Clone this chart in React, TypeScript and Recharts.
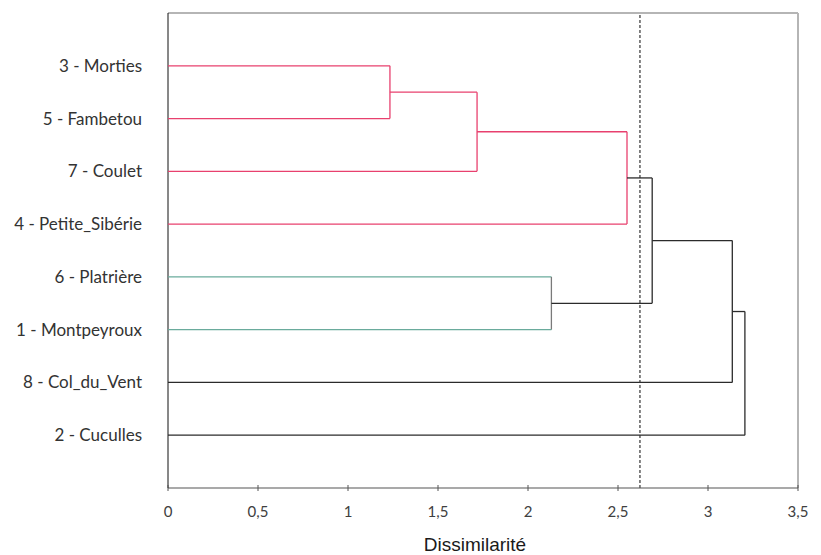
import React from 'react';
import {
    ScatterChart,
    Scatter,
    XAxis,
    YAxis,
    ReferenceLine,
} from 'recharts';

// leaves, top to bottom
const leaves = [
    '3 - Morties',
    '5 - Fambetou',
    '7 - Coulet',
    '4 - Petite_Sibérie',
    '6 - Platrière',
    '1 - Montpeyroux',
    '8 - Col_du_Vent',
    '2 - Cuculles',
];

// merges: ids 0..7 are leaves, 8.. are merge nodes in this order
const mergeA = [0, 8, 9, 4, 10, 12, 13];
const mergeB = [1, 2, 3, 5, 11, 6, 7];
const mergeHeight = [1.233, 1.717, 2.55, 2.13, 2.69, 3.135, 3.205];

const cutLevel = 2.622;
const xTicks = [0, 0.5, 1, 1.5, 2, 2.5, 3, 3.5];
const yTicks = [1, 2, 3, 4, 5, 6, 7, 8];

const PINK = '#E8406E';
const GREEN = '#6AAB9C';
const DARK = '#2B2B2B';
const hColors = [PINK, PINK, PINK, GREEN, DARK, DARK, DARK];
const vColors = [PINK, PINK, PINK, '#7A7A7A', DARK, DARK, DARK];

const nodePos = (id: number): { x: number; y: number } => {
    if (id < leaves.length) return { x: 0, y: id + 1 };
    const m = id - leaves.length;
    const a = nodePos(mergeA[m]);
    const b = nodePos(mergeB[m]);
    return { x: mergeHeight[m], y: (a.y + b.y) / 2 };
};

const segments: { pts: { x: number; y: number }[]; color: string }[] = [];
mergeHeight.forEach((h, i) => {
    const a = nodePos(mergeA[i]);
    const b = nodePos(mergeB[i]);
    segments.push({ pts: [{ x: a.x, y: a.y }, { x: h, y: a.y }], color: hColors[i] });
    segments.push({ pts: [{ x: h, y: a.y }, { x: h, y: b.y }], color: vColors[i] });
    segments.push({ pts: [{ x: h, y: b.y }, { x: b.x, y: b.y }], color: hColors[i] });
});

const XTick = ({ x, y, payload }: any) => (
    <g>
        <line x1={x} x2={x} y1={y - 22} y2={y - 16} stroke="#555" strokeWidth={1} />
        <text x={x} y={y} textAnchor="middle" fill="#404040" fontSize={15} fontFamily="Lato, sans-serif" dy={10}>
            {String(payload.value).replace('.', ',')}
        </text>
    </g>
);

export default function App() {
    return (
        <div style={{ position: 'absolute', left: 0, top: 0, background: '#fff' }}>
            <ScatterChart width={821} height={555} margin={{ top: 13, right: 23, left: 8, bottom: 0 }}>
                <XAxis
                    type="number"
                    dataKey="x"
                    domain={[0, 3.5]}
                    ticks={xTicks}
                    allowDataOverflow
                    axisLine={{ stroke: '#555', strokeWidth: 1.2 }}
                    tickLine={false}
                    tickSize={0}
                    tickMargin={19}
                    tick={<XTick />}
                    height={67}
                    label={{
                        value: 'Dissimilarité',
                        position: 'insideBottom',
                        offset: 4,
                        dx: -8,
                        fill: '#1a1a1a',
                        fontSize: 19,
                        fontFamily: 'Liberation Sans, Arial, sans-serif',
                    }}
                />
                <YAxis
                    type="number"
                    dataKey="y"
                    domain={[0, 9]}
                    reversed
                    ticks={yTicks}
                    width={160}
                    axisLine={{ stroke: '#111', strokeWidth: 1 }}
                    tickLine={false}
                    tickSize={0}
                    tickMargin={26}
                    tickFormatter={(v: number) => leaves[v - 1] ?? ''}
                    tick={{ fill: '#333', fontSize: 17, fontFamily: 'Lato, sans-serif' }}
                />
                <ReferenceLine y={0} stroke="#B5B5B5" strokeWidth={2} />
                <ReferenceLine x={3.5} stroke="#B5B5B5" strokeWidth={2} />
                {segments.map((s, i) => (
                    <Scatter
                        key={i}
                        data={s.pts}
                        line={{ stroke: s.color, strokeWidth: 1.3 }}
                        lineType="joint"
                        shape={() => <g />}
                        isAnimationActive={false}
                    />
                ))}
                <ReferenceLine x={cutLevel} stroke="#333" strokeWidth={1.2} strokeDasharray="3 2" />
            </ScatterChart>
        </div>
    );
}
